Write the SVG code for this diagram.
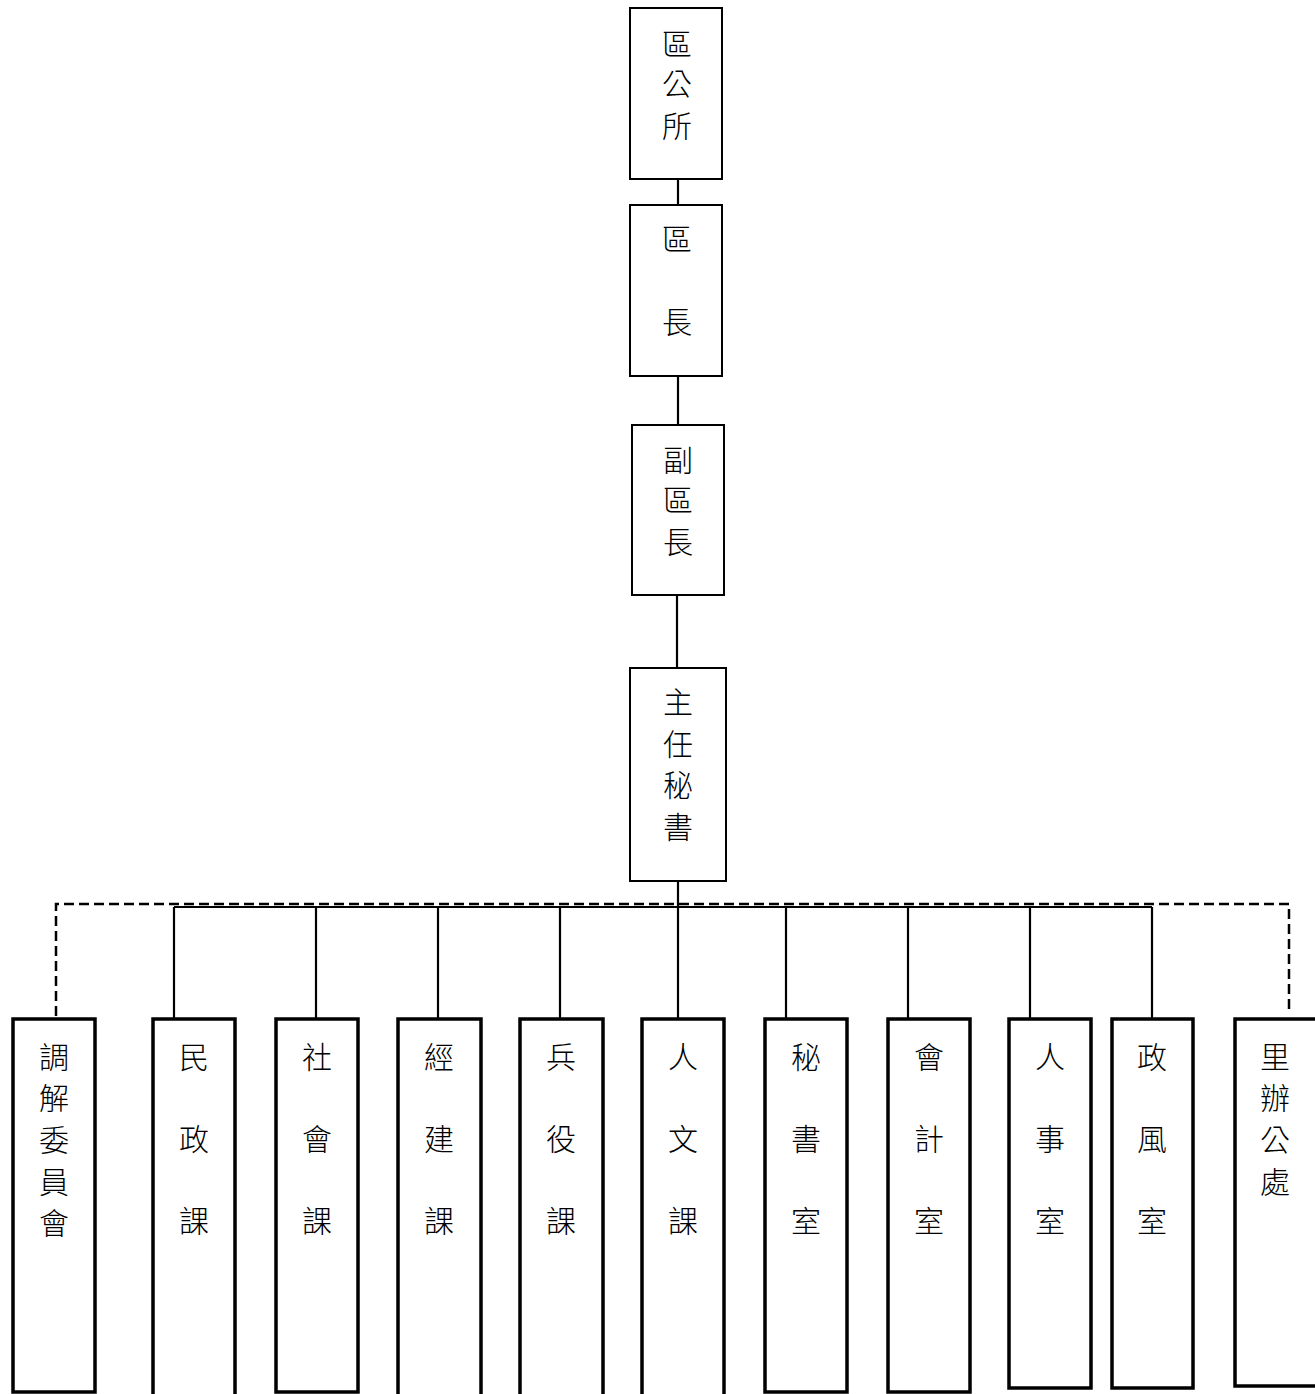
<svg xmlns="http://www.w3.org/2000/svg" width="1315" height="1394" viewBox="0 0 1315 1394">
<style>
.top{fill:#fff;stroke:#000;stroke-width:2}
.bot{fill:#fff;stroke:#000;stroke-width:3.5}
.ln{stroke:#000;stroke-width:2.2;fill:none}
.dash{stroke:#000;stroke-width:2.5;fill:none;stroke-dasharray:10,5}
text{font-family:"Noto Sans CJK TC","Noto Sans CJK SC",sans-serif;font-size:30px;fill:#000;text-anchor:middle;dominant-baseline:central;font-weight:300}
</style>
<rect width="1315" height="1394" fill="#fff"/>
<g id="connectors">
<line class="ln" x1="678" y1="179" x2="678" y2="205"/>
<line class="ln" x1="678" y1="376" x2="678" y2="425"/>
<line class="ln" x1="677" y1="595" x2="677" y2="668"/>
<line class="ln" x1="678" y1="881" x2="678" y2="1018"/>
<line class="ln" x1="174" y1="907" x2="1152" y2="907"/>
<line class="ln" x1="174" y1="907" x2="174" y2="1018"/>
<line class="ln" x1="316" y1="907" x2="316" y2="1018"/>
<line class="ln" x1="438" y1="907" x2="438" y2="1018"/>
<line class="ln" x1="560" y1="907" x2="560" y2="1018"/>
<line class="ln" x1="786" y1="907" x2="786" y2="1018"/>
<line class="ln" x1="908" y1="907" x2="908" y2="1018"/>
<line class="ln" x1="1030" y1="907" x2="1030" y2="1018"/>
<line class="ln" x1="1152" y1="907" x2="1152" y2="1018"/>
<path class="dash" d="M56,1016 V904 H1289 V1010"/>
</g>
<g id="n-qugongsuo"><rect class="top" x="630" y="8" width="92" height="171"/>
<text x="677" y="42">區</text><text x="677" y="82">公</text><text x="677" y="124">所</text></g>
<g id="n-quzhang"><rect class="top" x="630" y="205" width="92" height="171"/>
<text x="677" y="237">區</text><text x="677" y="320">長</text></g>
<g id="n-fuquzhang"><rect class="top" x="632" y="425" width="92" height="170"/>
<text x="678" y="458">副</text><text x="678" y="498">區</text><text x="678" y="540">長</text></g>
<g id="n-zhurenmishu"><rect class="top" x="630" y="668" width="96" height="213"/>
<text x="678" y="700">主</text><text x="678" y="742">任</text><text x="678" y="783">秘</text><text x="678" y="825">書</text></g>
<g id="n-tiaojie"><rect class="bot" x="13" y="1019" width="82" height="373"/>
<text x="54" y="1055">調</text><text x="54" y="1096">解</text><text x="54" y="1138">委</text><text x="54" y="1180">員</text><text x="54" y="1221">會</text></g>
<g id="n-minzheng"><rect class="bot" x="153" y="1019" width="82" height="390"/>
<text x="194" y="1055">民</text><text x="194" y="1137">政</text><text x="194" y="1219">課</text></g>
<g id="n-shehui"><rect class="bot" x="276" y="1019" width="82" height="373"/>
<text x="317" y="1055">社</text><text x="317" y="1137">會</text><text x="317" y="1219">課</text></g>
<g id="n-jingjian"><rect class="bot" x="398" y="1019" width="83" height="390"/>
<text x="439" y="1055">經</text><text x="439" y="1137">建</text><text x="439" y="1219">課</text></g>
<g id="n-bingyi"><rect class="bot" x="520" y="1019" width="83" height="390"/>
<text x="561" y="1055">兵</text><text x="561" y="1137">役</text><text x="561" y="1219">課</text></g>
<g id="n-renwen"><rect class="bot" x="642" y="1019" width="82" height="390"/>
<text x="683" y="1055">人</text><text x="683" y="1137">文</text><text x="683" y="1219">課</text></g>
<g id="n-mishushi"><rect class="bot" x="765" y="1019" width="82" height="373"/>
<text x="806" y="1055">秘</text><text x="806" y="1137">書</text><text x="806" y="1219">室</text></g>
<g id="n-kuaiji"><rect class="bot" x="888" y="1019" width="82" height="373"/>
<text x="929" y="1055">會</text><text x="929" y="1137">計</text><text x="929" y="1219">室</text></g>
<g id="n-renshi"><rect class="bot" x="1009" y="1019" width="82" height="369"/>
<text x="1050" y="1055">人</text><text x="1050" y="1137">事</text><text x="1050" y="1219">室</text></g>
<g id="n-zhengfeng"><rect class="bot" x="1112" y="1019" width="81" height="369"/>
<text x="1152" y="1055">政</text><text x="1152" y="1137">風</text><text x="1152" y="1219">室</text></g>
<g id="n-libangongchu"><rect class="bot" x="1235" y="1019" width="82" height="367"/>
<text x="1275" y="1055">里</text><text x="1275" y="1096">辦</text><text x="1275" y="1138">公</text><text x="1275" y="1180">處</text></g>
</svg>
